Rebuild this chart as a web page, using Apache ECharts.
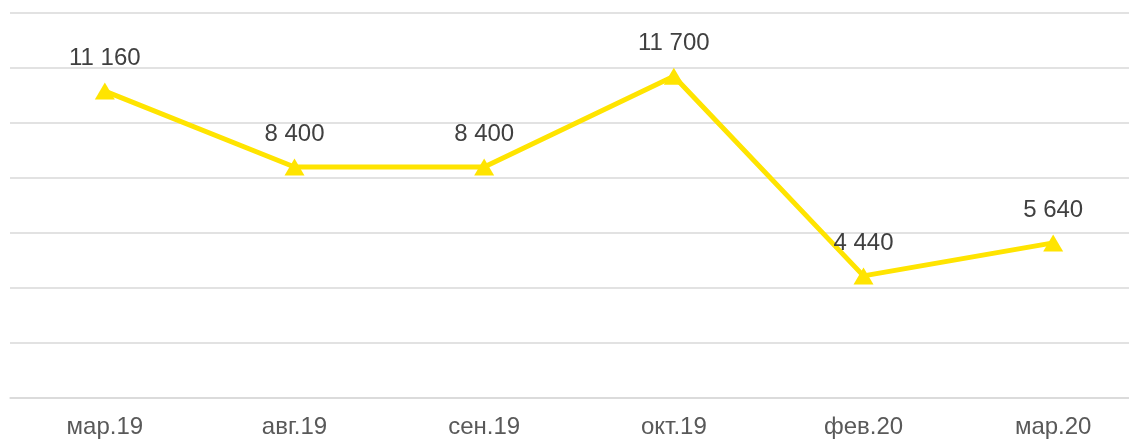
<!DOCTYPE html>
<html>
<head>
<meta charset="utf-8">
<script src="https://cdn.jsdelivr.net/npm/echarts@6/dist/echarts.min.js"></script>
<style>
  html, body { margin: 0; padding: 0; background: #fff; }
  #chart { width: 1129px; height: 440px; }
</style>
</head>
<body>
<div id="chart"></div>
<script>
const categories = ["мар.19", "авг.19", "сен.19", "окт.19", "фев.20", "мар.20"];
const values = [11160, 8400, 8400, 11700, 4440, 5640];

const fmt = (v) => String(v).replace(/\B(?=(\d{3})+(?!\d))/g, " ");

const chart = echarts.init(document.getElementById("chart"));
chart.setOption({
  animation: false,
  grid: { left: 10, top: 13, bottom: 42, right: -19, outerBoundsMode: "none" },
  xAxis: {
    type: "category",
    data: categories,
    axisLine: { lineStyle: { color: "#d9d9d9", width: 1.5 } },
    axisTick: { show: false },
    axisLabel: {
      color: "#595959",
      fontSize: 24,
      fontFamily: "Liberation Sans, Arial",
      margin: 17,
    },
  },
  yAxis: {
    type: "value",
    min: 0,
    max: 14000,
    interval: 2000,
    axisLine: { show: false },
    axisTick: { show: false },
    axisLabel: { show: false },
    splitLine: { lineStyle: { color: "#d9d9d9", width: 1.5 } },
  },
  series: [
    {
      type: "line",
      data: values,
      symbol: "triangle",
      symbolSize: [20, 17],
      lineStyle: { color: "#ffe400", width: 5 },
      itemStyle: { color: "#ffe400" },
      label: {
        show: true,
        position: "top",
        distance: 12,
        color: "#404040",
        fontSize: 24,
        fontFamily: "Liberation Sans, Arial",
        formatter: (p) => fmt(p.value),
      },
    },
  ],
});
</script>
</body>
</html>
